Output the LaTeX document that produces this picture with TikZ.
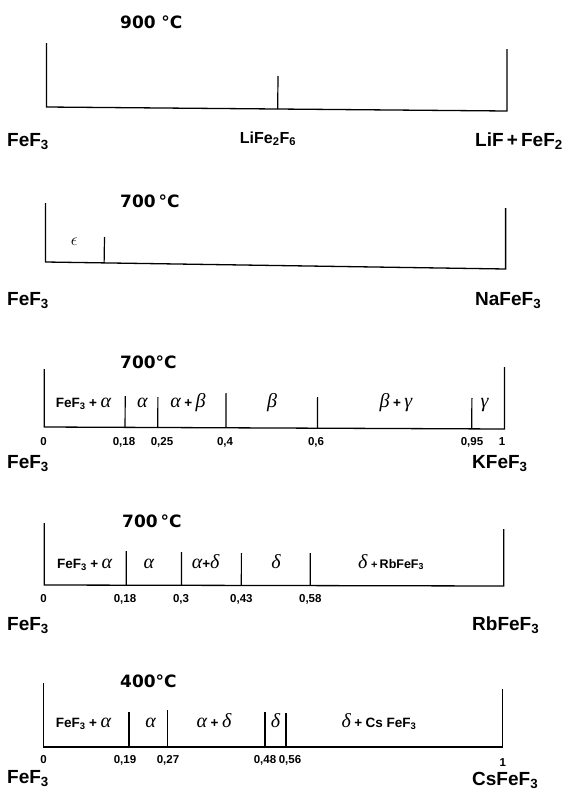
\documentclass[tikz,border=0pt]{standalone}
\usepackage{fontspec}
\setmainfont{Liberation Sans}
\newfontfamily\tempfont{DejaVu Sans}
\newfontfamily\grkfont{Liberation Serif}
\usetikzlibrary{calc}
\newcommand\fsz[1]{\fontsize{#1}{#1}\selectfont}
\newcommand\gk[1]{{\grkfont\fontseries{m}\itshape\fsz{20}#1}}
\newcommand\sbs[1]{\textsubscript{#1}}
\newcommand\pl{\hspace{3.5pt}+\hspace{3.5pt}}
\begin{document}
\begin{tikzpicture}[x=1pt,y=-1pt,
  lab/.style={font=\bfseries\fsz{19}, inner sep=0pt, anchor=base west},
  temp/.style={font=\tempfont\bfseries\fsz{17}, inner sep=0pt, anchor=base west},
  cell/.style={font=\bfseries\fsz{13.5}, inner sep=0pt, anchor=base},
  small/.style={font=\bfseries\fsz{16}, inner sep=0pt, anchor=base},
  num/.style={font=\bfseries\fsz{11.5}, inner sep=0pt, anchor=base},
  panelframe/.style={line width=1.3pt, line join=miter},
  tickline/.style={line width=1.2pt}]
\useasboundingbox (0,0) rectangle (569,798);
\fill[white] (0,0) rectangle (569,798);

% ---------- panel 1 : LiF ----------
\coordinate (a1) at (46.5,43);  \coordinate (b1) at (46.5,107);
\coordinate (c1) at (507,111);  \coordinate (d1) at (507,49);
\draw[panelframe] (a1) -- (b1) -- (c1) -- (d1);
\coordinate (k1a) at (278,76);
\draw[tickline] (k1a) -- ($(b1)!(k1a)!(c1)$);
\node[temp] (T1) at (120,28) {900\,\,°C};
\node[lab] (L1) at (7,146) {FeF\sbs{3}};
\node[small] (M1) at (268,143) {LiFe\sbs{2}F\sbs{6}};
\node[lab] (R1) at (475,146) {LiF\,+\,FeF\sbs{2}};

% ---------- panel 2 : Na ----------
\coordinate (a2) at (45.4,203);  \coordinate (b2) at (45.4,262);
\coordinate (c2) at (505.6,269); \coordinate (d2) at (505.6,208);
\draw[panelframe] (a2) -- (b2) -- (c2) -- (d2);
\coordinate (k2a) at (104.5,237);
\draw[tickline] (k2a) -- ($(b2)!(k2a)!(c2)$);
\node[temp] (T2) at (120,207) {700\,°C};
\node[cell] (E2) at (74.4,245) {{\fsz{19}$\epsilon$}};
\node[lab] (L2) at (7,305) {FeF\sbs{3}};
\node[lab] (R2) at (475,305) {NaFeF\sbs{3}};

% ---------- panel 3 : K ----------
\coordinate (a3) at (44.3,369);  \coordinate (b3) at (44.3,427);
\coordinate (c3) at (504.5,429); \coordinate (d3) at (504.5,367);
\draw[panelframe] (a3) -- (b3) -- (c3) -- (d3);
\foreach \x/\y [count=\i] in {125.2/396, 157.9/397, 226.1/393, 317.6/397, 471.9/398}{
  \coordinate (k3\i) at (\x,\y);
  \draw[tickline] (k3\i) -- ($(b3)!(k3\i)!(c3)$);
}
\node[temp] (T3) at (120,368) {700°C};
\node[cell] (C31) at (83.5,407) {FeF\sbs{3}\pl\gk{α}};
\node[cell] (C32) at (142.3,407) {\gk{α}};
\node[cell] (C33) at (188,407) {\gk{α}\pl\gk{β}};
\node[cell] (C34) at (272,407) {\gk{β}};
\node[cell] (C35) at (396,407) {\gk{β}\pl\gk{γ}};
\node[cell] (C36) at (484.6,407) {\gk{γ}};
\node[num] (N30) at (43.6,445) {0};
\node[num] (N31) at (124,445) {0,18};
\node[num] (N32) at (162,445) {0,25};
\node[num] (N33) at (225,445) {0,4};
\node[num] (N34) at (316,445) {0,6};
\node[num] (N35) at (472,445) {0,95};
\node[num] (N36) at (502,445) {1};
\node[lab] (L3) at (7,468) {FeF\sbs{3}};
\node[lab] (R3) at (472,468) {KFeF\sbs{3}};

% ---------- panel 4 : Rb ----------
\coordinate (a4) at (44.3,523);  \coordinate (b4) at (44.3,585);
\coordinate (c4) at (503.8,586); \coordinate (d4) at (503.8,529);
\draw[panelframe] (a4) -- (b4) -- (c4) -- (d4);
\foreach \x/\y [count=\i] in {126.3/551, 181.5/552, 241.4/553, 310.3/553}{
  \coordinate (k4\i) at (\x,\y);
  \draw[tickline] (k4\i) -- ($(b4)!(k4\i)!(c4)$);
}
\node[temp] (T4) at (122,527) {700\,°C};
\node[cell] (C41) at (84.6,568) {FeF\sbs{3}\pl\gk{α}};
\node[cell] (C42) at (148.8,568) {\gk{α}};
\node[cell] (C43) at (205.6,568) {\gk{α}+\gk{δ}};
\node[cell] (C44) at (275.9,568) {\gk{δ}};
\node[cell] (C45) at (391,568) {\gk{δ} {\fsz{11}+}\,{\fsz{12.5}RbFeF\sbs{3}}};
\node[num] (N40) at (43.6,602) {0};
\node[num] (N41) at (125,602) {0,18};
\node[num] (N42) at (181,602) {0,3};
\node[num] (N43) at (241.4,602) {0,43};
\node[num] (N44) at (310.3,602) {0,58};
\node[lab] (L4) at (7,630) {FeF\sbs{3}};
\node[lab] (R4) at (472,630) {RbFeF\sbs{3}};

% ---------- panel 5 : Cs ----------
\coordinate (a5) at (43.6,683);  \coordinate (b5) at (43.6,747);
\coordinate (c5) at (502.7,747); \coordinate (d5) at (502.7,689);
\draw[panelframe] (a5) -- (b5) -- (c5) -- (d5);
\foreach \x/\y [count=\i] in {128.9/712, 167.7/710, 265/712, 286/713}{
  \coordinate (k5\i) at (\x,\y);
  \draw[tickline] (k5\i) -- ($(b5)!(k5\i)!(c5)$);
}
\node[temp] (T5) at (120,687) {400°C};
\node[cell] (C51) at (83.5,727) {FeF\sbs{3}\pl\gk{α}};
\node[cell] (C52) at (150.6,727) {\gk{α}};
\node[cell] (C53) at (214,727) {\gk{α}\pl\gk{δ}};
\node[cell] (C54) at (275.5,727) {\gk{δ}};
\node[cell] (C55) at (379,727) {\gk{δ}\pl Cs FeF\sbs{3}};
\node[num] (N50) at (43.6,763) {0};
\node[num] (N51) at (125,763) {0,19};
\node[num] (N52) at (168,763) {0,27};
\node[num] (N53) at (265,763) {0,48};
\node[num] (N54) at (290,763) {0,56};
\node[num] (N55) at (502.7,766) {1};
\node[lab] (L5) at (7,783) {FeF\sbs{3}};
\node[lab] (R5) at (472,785) {CsFeF\sbs{3}};
\end{tikzpicture}
\end{document}
